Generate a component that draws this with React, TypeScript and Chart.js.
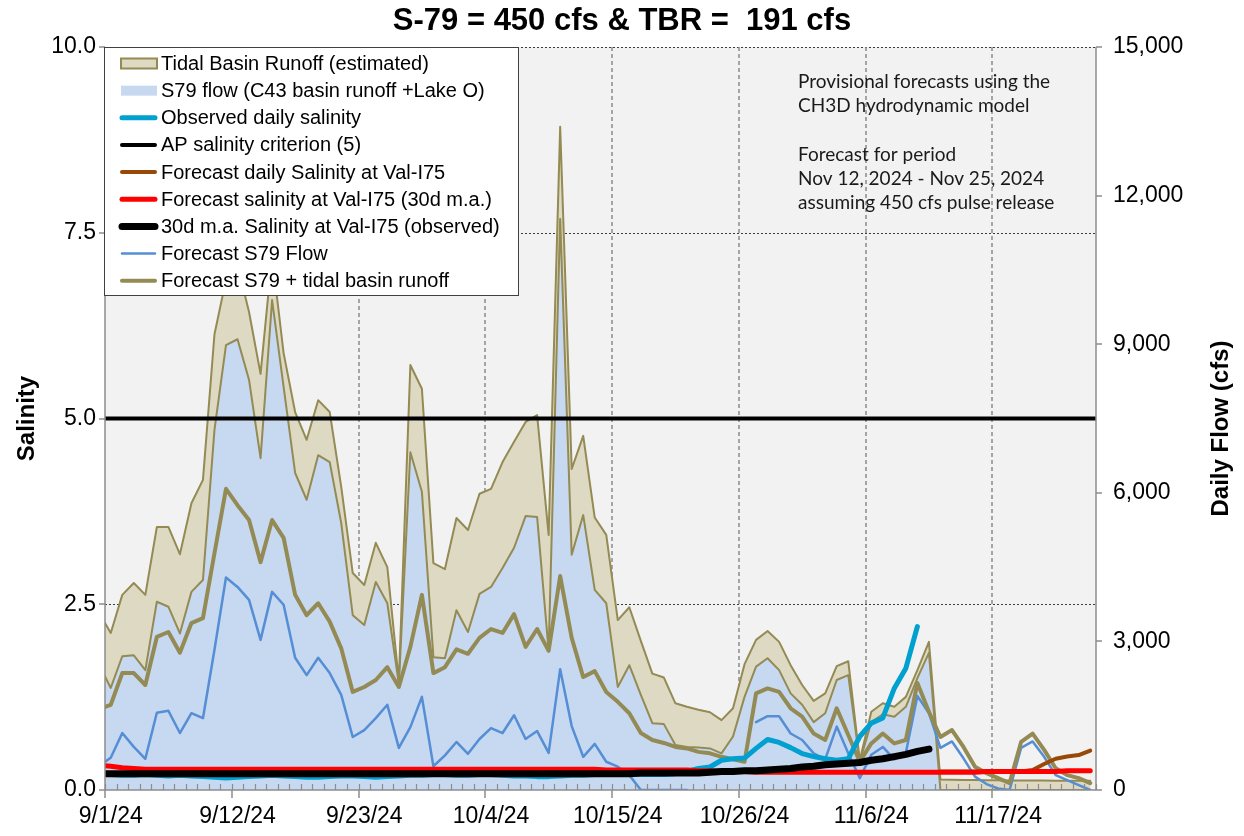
import React, { useEffect, useRef } from 'react';
import { Chart, registerables } from 'chart.js';

Chart.register(...registerables);

const FONT = "'Liberation Sans', Arial, Helvetica, sans-serif";
const NOTE_FONT = "Lato, 'Open Sans', sans-serif";

const chartTitle = 'S-79 = 450 cfs & TBR =  191 cfs';
const leftAxisTitle = 'Salinity';
const rightAxisTitle = 'Daily Flow (cfs)';

// x axis: day number relative to 9/1/24; every series starts on 8/31/24 (day -1)
const firstDay = -1;
const lastDay = 85;
const xTickLabels = ['9/1/24', '9/12/24', '9/23/24', '10/4/24', '10/15/24', '10/26/24', '11/6/24', '11/17/24'];
const daysPerXTick = 11;

const salinityMin = 0;
const salinityMax = 10;
const salinityStep = 2.5;
const flowMin = 0;
const flowMax = 15000;
const flowStep = 3000;

const apCriterion = 5;

// ---- flows (cfs), 8/31/24 .. 11/25/24 ----
const s79Flow = [
  2520, 2060, 2700, 2720, 2420, 3800, 3700, 3160, 4000, 4240,
  7270, 8980, 9100, 8280, 6700, 9890, 8140, 6400, 5860, 6760,
  6620, 5390, 3530, 3330, 4200, 3770, 2140, 6820, 6020, 2680,
  2660, 3630, 3190, 3960, 4100, 4480, 4890, 5530, 5510, 2810,
  11530, 4750, 5550, 4040, 3770, 2080, 2520, 1920, 1350, 1330,
  910, 870, 860, 840, 740, 1080, 1880, 2490, 2660, 2420,
  1950, 1720, 1370, 1550, 2220, 2320, 570, 1370, 1530, 1480,
  1680, 2260, 2770, 0, 0, 0, 0, 0, 0, 0,
  0, 0, 0, 0, 0, 0, 0,
];

const tidalBasinRunoff = [
  1050, 1110, 1240, 1460, 1520, 1510, 1610, 1600, 1790, 2020,
  1930, 1320, 1500, 1370, 1700, 900, 680, 1230, 1210, 1110,
  1010, 730, 850, 810, 790, 730, 60, 1760, 2080, 1900,
  1800, 1860, 2060, 2020, 1980, 2140, 2140, 1900, 2060, 2340,
  1860, 1730, 1600, 1460, 1380, 1350, 1170, 1090, 1000, 940,
  840, 810, 760, 730, 670, 570, 660, 540, 550, 570,
  570, 400, 430, 400, 280, 280, 30, 210, 220, 200,
  200, 160, 220, 210, 205, 200, 200, 195, 195, 190,
  190, 190, 190, 188, 188, 185, 185,
];

const forecastS79Flow = [
  490, 650, 1150, 870, 630, 1560, 1600, 1150, 1550, 1450,
  2830, 4290, 4100, 3840, 3030, 4000, 3740, 2670, 2320, 2670,
  2360, 1920, 1070, 1210, 1450, 1720, 850, 1270, 1880, 480,
  700, 970, 730, 1030, 1250, 1150, 1510, 1030, 1190, 750,
  2440, 1290, 670, 930, 570, 470, 300, 0, 0, 0,
  0, 0, null, null, null, null, null, 1370, 1490, 1490,
  1140, 1010, 740, 620, 1280, 740, 240, 710, 870, 620,
  750, 1900, 1550, 850, 980, 640, 270, 120, 30, 0,
  850, 980, 670, 300, 200, 100, 0,
];

const forecastS79PlusTbr = [
  1640, 1720, 2360, 2360, 2120, 3090, 3190, 2770, 3370, 3470,
  4780, 6080, 5750, 5450, 4600, 5450, 5090, 3940, 3530, 3770,
  3400, 2860, 1980, 2080, 2220, 2480, 2080, 2890, 3940, 2360,
  2480, 2840, 2750, 3070, 3250, 3170, 3550, 2890, 3250, 2810,
  4320, 3070, 2280, 2400, 1980, 1780, 1550, 1150, 1010, 950,
  870, 840, 770, 740, 670, 620, 570, 1950, 2050, 1980,
  1650, 1480, 1140, 1010, 1650, 1110, 570, 940, 1140, 940,
  1010, 2160, 1580, 1070, 1210, 870, 470, 340, 240, 140,
  970, 1140, 810, 440, 300, 240, 140,
];

// ---- salinity, 8/31/24 .. 11/25/24 ----
const observedDailySalinity = [
  0.21, 0.21, 0.20, 0.20, 0.21, 0.20, 0.19, 0.20, 0.19, 0.18,
  0.17, 0.16, 0.17, 0.18, 0.19, 0.20, 0.19, 0.18, 0.17, 0.17,
  0.18, 0.19, 0.19, 0.18, 0.17, 0.18, 0.19, 0.20, 0.20, 0.21,
  0.21, 0.20, 0.20, 0.21, 0.21, 0.20, 0.19, 0.19, 0.18, 0.18,
  0.19, 0.20, 0.20, 0.21, 0.21, 0.22, 0.21, 0.21, 0.21, 0.21,
  0.22, 0.25, 0.29, 0.31, 0.40, 0.42, 0.43, 0.56, 0.68, 0.64,
  0.57, 0.49, 0.45, 0.42, 0.40, 0.42, 0.72, 0.90, 0.97, 1.37,
  1.64, 2.20, null, null, null, null, null, null, null, null,
  null, null, null, null, null, null, null,
];

const observedSalinity30d = [
  0.22, 0.22, 0.22, 0.22, 0.22, 0.22, 0.22, 0.22, 0.22, 0.22,
  0.22, 0.22, 0.22, 0.22, 0.22, 0.22, 0.22, 0.22, 0.22, 0.22,
  0.22, 0.22, 0.22, 0.22, 0.22, 0.22, 0.22, 0.22, 0.22, 0.22,
  0.22, 0.22, 0.22, 0.22, 0.22, 0.22, 0.22, 0.22, 0.22, 0.22,
  0.22, 0.22, 0.22, 0.22, 0.22, 0.22, 0.22, 0.23, 0.23, 0.23,
  0.23, 0.23, 0.23, 0.24, 0.25, 0.25, 0.26, 0.26, 0.27, 0.28,
  0.29, 0.31, 0.32, 0.34, 0.35, 0.36, 0.37, 0.40, 0.42, 0.45,
  0.48, 0.52, 0.55, null, null, null, null, null, null, null,
  null, null, null, null, null, null, null,
];

const forecastSalinity30d = [
  0.33, 0.32, 0.30, 0.29, 0.28, 0.28, 0.28, 0.28, 0.28, 0.28,
  0.28, 0.28, 0.28, 0.28, 0.28, 0.28, 0.28, 0.28, 0.28, 0.28,
  0.28, 0.28, 0.28, 0.28, 0.28, 0.28, 0.28, 0.28, 0.28, 0.28,
  0.28, 0.28, 0.28, 0.28, 0.28, 0.28, 0.28, 0.28, 0.28, 0.28,
  0.28, 0.28, 0.28, 0.28, 0.27, 0.27, 0.27, 0.27, 0.27, 0.27,
  0.27, 0.27, 0.26, 0.26, 0.25, 0.25, 0.25, 0.24, 0.24, 0.24,
  0.24, 0.24, 0.24, 0.24, 0.24, 0.24, 0.24, 0.24, 0.24, 0.24,
  0.24, 0.24, 0.24, 0.24, 0.24, 0.24, 0.24, 0.25, 0.25, 0.25,
  0.25, 0.25, 0.25, 0.25, 0.26, 0.26, 0.26,
];

const forecastDailySalinity = [
  null, null, null, null, null, null, null, null, null, null,
  null, null, null, null, null, null, null, null, null, null,
  null, null, null, null, null, null, null, null, null, null,
  null, null, null, null, null, null, null, null, null, null,
  null, null, null, null, null, null, null, null, null, null,
  null, null, null, null, null, null, null, null, null, null,
  null, null, null, null, null, null, null, null, null, null,
  null, null, null, 0.25, 0.25, 0.25, 0.25, 0.25, 0.25, 0.25,
  0.25, 0.27, 0.35, 0.42, 0.45, 0.47, 0.53,
];

const noteLines = [
  'Provisional forecasts using the',
  'CH3D hydrodynamic model',
  '',
  'Forecast for period',
  'Nov 12, 2024 - Nov 25, 2024',
  'assuming 450 cfs pulse release',
];

const OLIVE = '#948a54';
const TAN = '#ddd9c3';
const LIGHT_BLUE = '#c6d9f1';
const AXIS_GRAY = '#8c8c8c';

const pts = (arr: (number | null)[]) => arr.map((v, i) => ({ x: firstDay + i, y: v }));
const xTickValue = (k: number) => -0.5 + daysPerXTick * k;

const legendOrder = [1, 0, 2, 3, 4, 5, 6, 7, 8];

function strokeLine(ctx: CanvasRenderingContext2D, x1: number, y1: number, x2: number, y2: number) {
  ctx.beginPath();
  ctx.moveTo(x1, y1);
  ctx.lineTo(x2, y2);
  ctx.stroke();
}

const decorPlugin = {
  id: 'decor',
  beforeDraw(chart: any) {
    const { ctx, chartArea: a, scales } = chart;
    const xs = scales.x;
    const ys = scales.y;
    ctx.save();
    ctx.fillStyle = '#ffffff';
    ctx.fillRect(0, 0, chart.width, chart.height);
    ctx.fillStyle = '#f2f2f2';
    ctx.fillRect(a.left, a.top, a.right - a.left, a.bottom - a.top);
    // horizontal dotted grid lines
    ctx.strokeStyle = '#3c3c3c';
    ctx.lineWidth = 1;
    ctx.setLineDash([2, 2]);
    for (let v = salinityMin + salinityStep; v <= salinityMax + 1e-9; v += salinityStep) {
      const py = Math.round(ys.getPixelForValue(v)) + 0.5;
      strokeLine(ctx, a.left, py, a.right, py);
    }
    // vertical dashed grid lines
    ctx.strokeStyle = '#8a8a8a';
    ctx.lineWidth = 1.5;
    ctx.setLineDash([4, 3]);
    xTickLabels.forEach((_, k) => {
      if (k === 0) return;
      const px = Math.round(xs.getPixelForValue(xTickValue(k)));
      strokeLine(ctx, px, a.top, px, a.bottom);
    });
    ctx.restore();
  },
  afterDatasetsDraw(chart: any) {
    const { ctx, chartArea: a, scales } = chart;
    const xs = scales.x;
    const ys = scales.y;
    const y1 = scales.y1;
    ctx.save();
    ctx.strokeStyle = AXIS_GRAY;
    ctx.lineWidth = 1.5;
    ctx.setLineDash([]);
    strokeLine(ctx, a.left, a.top, a.left, a.bottom);
    strokeLine(ctx, a.right, a.top, a.right, a.bottom);
    strokeLine(ctx, a.left, a.bottom, a.right, a.bottom);
    // minor day ticks (inside)
    for (let d = firstDay + 0.5; d <= lastDay + 0.5 + 1e-9; d += 1) {
      const px = Math.round(xs.getPixelForValue(d)) + 0.5;
      if (px < a.left - 1 || px > a.right + 1) continue;
      ctx.lineWidth = 1.2;
      strokeLine(ctx, px, a.bottom, px, a.bottom - 6);
    }
    // major ticks (outside)
    ctx.lineWidth = 1.5;
    xTickLabels.forEach((_, k) => {
      const px = Math.round(xs.getPixelForValue(xTickValue(k)));
      strokeLine(ctx, px, a.bottom, px, a.bottom + 8);
    });
    for (let v = salinityMin; v <= salinityMax + 1e-9; v += salinityStep) {
      const py = Math.round(ys.getPixelForValue(v));
      strokeLine(ctx, a.left - 6, py, a.left, py);
    }
    for (let v = flowMin; v <= flowMax; v += flowStep) {
      const py = Math.round(y1.getPixelForValue(v));
      strokeLine(ctx, a.right, py, a.right + 6, py);
    }
    ctx.restore();
  },
  afterDraw(chart: any) {
    const { ctx, chartArea: a } = chart;
    ctx.save();
    // title
    ctx.fillStyle = '#000';
    ctx.font = `bold 31px ${FONT}`;
    ctx.textAlign = 'center';
    ctx.textBaseline = 'middle';
    ctx.fillText(chartTitle, chart.width / 2, 21);
    // axis titles
    ctx.font = `bold 24px ${FONT}`;
    ctx.save();
    ctx.translate(27, (a.top + a.bottom) / 2);
    ctx.rotate(-Math.PI / 2);
    ctx.fillText(leftAxisTitle, 0, 0);
    ctx.restore();
    ctx.save();
    ctx.translate(1221, (a.top + a.bottom) / 2 + 10);
    ctx.rotate(-Math.PI / 2);
    ctx.fillText(rightAxisTitle, 0, 0);
    ctx.restore();

    // legend
    const box = { left: 104.5, top: 47.5, right: 518.5, bottom: 295.5 };
    ctx.fillStyle = '#ffffff';
    ctx.fillRect(box.left, box.top, box.right - box.left, box.bottom - box.top);
    ctx.strokeStyle = '#404040';
    ctx.lineWidth = 1;
    ctx.strokeRect(box.left, box.top, box.right - box.left, box.bottom - box.top);
    ctx.textAlign = 'left';
    ctx.textBaseline = 'middle';
    ctx.font = `20px ${FONT}`;
    legendOrder.forEach((di, row) => {
      const ds = chart.data.datasets[di];
      const cy = 63.5 + row * 27.15;
      if (ds.legendType === 'area') {
        ctx.fillStyle = ds.backgroundColor;
        ctx.fillRect(121, cy - 5, 36, 10);
        if (ds.legendStroke) {
          ctx.strokeStyle = ds.legendStroke;
          ctx.lineWidth = 2;
          ctx.strokeRect(121, cy - 5, 36, 10);
        }
      } else {
        ctx.strokeStyle = ds.borderColor;
        ctx.lineWidth = ds.legendWidth || ds.borderWidth;
        ctx.lineCap = 'round';
        strokeLine(ctx, 122, cy, 155, cy);
      }
      ctx.fillStyle = '#000';
      ctx.fillText(ds.label, 161, cy + 1);
    });

    // note
    ctx.font = `19px ${NOTE_FONT}`;
    ctx.fillStyle = '#1a1a1a';
    noteLines.forEach((line, i) => {
      if (line) ctx.fillText(line, 798, 82 + i * 24.2);
    });
    ctx.restore();
  },
};

export default function App() {
  const ref = useRef<HTMLCanvasElement>(null);
  useEffect(() => {
    const tickFont = { family: FONT, size: 23 };
    const common = { pointRadius: 0, pointHoverRadius: 0, tension: 0, borderJoinStyle: 'round', borderCapStyle: 'round' };
    const chart = new Chart(ref.current as HTMLCanvasElement, {
      type: 'line',
      data: {
        datasets: [
          {
            ...common,
            label: 'S79 flow (C43 basin runoff +Lake O)',
            data: pts(s79Flow),
            yAxisID: 'y1',
            stack: 'flow',
            fill: 'origin',
            backgroundColor: LIGHT_BLUE,
            borderColor: OLIVE,
            borderWidth: 2,
            order: 10,
            legendType: 'area',
            legendStroke: null,
          },
          {
            ...common,
            label: 'Tidal Basin Runoff (estimated)',
            data: pts(tidalBasinRunoff),
            yAxisID: 'y1',
            stack: 'flow',
            fill: '-1',
            backgroundColor: TAN,
            borderColor: OLIVE,
            borderWidth: 2,
            order: 11,
            legendType: 'area',
            legendStroke: OLIVE,
          },
          {
            ...common,
            label: 'Observed daily salinity',
            data: pts(observedDailySalinity),
            yAxisID: 'y',
            borderColor: '#00a0d0',
            borderWidth: 5,
            fill: false,
            order: 4,
          },
          {
            ...common,
            label: 'AP salinity criterion (5)',
            data: [{ x: firstDay, y: apCriterion }, { x: lastDay + 1, y: apCriterion }],
            yAxisID: 'y',
            borderColor: '#000000',
            borderWidth: 4,
            fill: false,
            order: 5,
          },
          {
            ...common,
            label: 'Forecast daily Salinity at Val-I75',
            data: pts(forecastDailySalinity),
            yAxisID: 'y',
            borderColor: '#984807',
            borderWidth: 4,
            fill: false,
            order: 3,
          },
          {
            ...common,
            label: 'Forecast salinity at Val-I75 (30d m.a.)',
            data: pts(forecastSalinity30d),
            yAxisID: 'y',
            borderColor: '#ff0000',
            borderWidth: 5,
            fill: false,
            order: 2,
          },
          {
            ...common,
            label: '30d m.a. Salinity at Val-I75 (observed)',
            data: pts(observedSalinity30d),
            yAxisID: 'y',
            borderColor: '#000000',
            borderWidth: 7,
            fill: false,
            order: 1,
          },
          {
            ...common,
            label: 'Forecast S79 Flow',
            data: pts(forecastS79Flow),
            yAxisID: 'y1',
            stack: 'fs79',
            borderColor: '#558ed5',
            borderWidth: 2.5,
            fill: false,
            order: 7,
          },
          {
            ...common,
            label: 'Forecast S79 + tidal basin runoff',
            data: pts(forecastS79PlusTbr),
            yAxisID: 'y1',
            stack: 'ftot',
            borderColor: OLIVE,
            borderWidth: 4,
            fill: false,
            order: 6,
          },
        ] as any,
      },
      options: {
        responsive: false,
        maintainAspectRatio: false,
        devicePixelRatio: 1,
        animation: false,
        events: [],
        layout: { padding: { top: 47, left: 0, right: 0, bottom: 0 } },
        plugins: {
          legend: { display: false },
          title: { display: false },
          tooltip: { enabled: false },
          filler: { drawTime: 'beforeDatasetsDraw' },
        },
        scales: {
          x: {
            type: 'linear',
            min: -0.5,
            max: lastDay + 0.5,
            grid: { display: false, drawTicks: false },
            border: { display: false },
            afterBuildTicks: (axis: any) => {
              axis.ticks = xTickLabels.map((_, k) => ({ value: xTickValue(k) }));
            },
            afterFit: (s: any) => {
              s.height = 46;
            },
            ticks: {
              autoSkip: false,
              maxRotation: 0,
              minRotation: 0,
              labelOffset: 5.76,
              padding: 13,
              color: '#000',
              font: tickFont,
              callback: (_v: any, i: number) => xTickLabels[i],
            },
          },
          y: {
            position: 'left',
            min: salinityMin,
            max: salinityMax,
            grid: { display: false, drawTicks: false },
            border: { display: false },
            afterFit: (s: any) => {
              s.width = 105;
            },
            ticks: {
              stepSize: salinityStep,
              padding: 9,
              color: '#000',
              font: tickFont,
              callback: (v: any) => Number(v).toFixed(1),
            },
          },
          y1: {
            position: 'right',
            min: flowMin,
            max: flowMax,
            stacked: true,
            grid: { display: false, drawTicks: false },
            border: { display: false },
            afterFit: (s: any) => {
              s.width = 148;
            },
            ticks: {
              stepSize: flowStep,
              padding: 17,
              color: '#000',
              font: tickFont,
              callback: (v: any) => Number(v).toLocaleString('en-US'),
            },
          },
        },
      } as any,
      plugins: [decorPlugin],
    });
    return () => chart.destroy();
  }, []);
  return (
    <div style={{ position: 'fixed', left: 0, top: 0, width: 1244, height: 836, background: '#fff' }}>
      <canvas ref={ref} width={1244} height={836} style={{ display: 'block', width: 1244, height: 836 }} />
    </div>
  );
}
